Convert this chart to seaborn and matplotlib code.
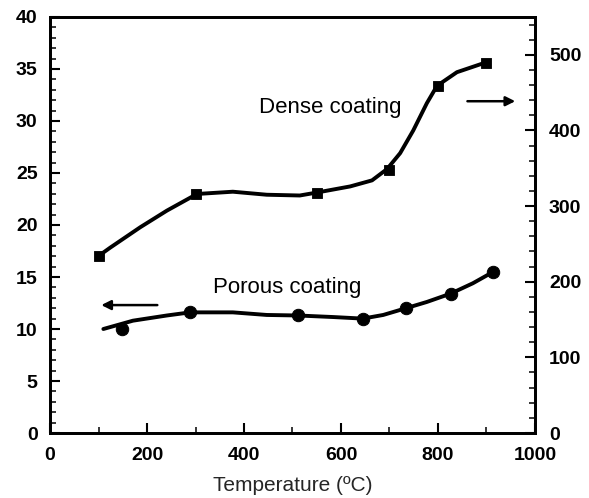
import matplotlib
matplotlib.use("Agg")
import matplotlib.pyplot as plt
import seaborn as sns
import pandas as pd
from matplotlib.ticker import MultipleLocator

sns.set_theme(style="white")
plt.rcParams['font.family'] = ['Liberation Sans', 'DejaVu Sans']

# Dense coating (right axis) - measured points
dense_T = [100, 300, 550, 700, 800, 900]
dense_val = [234, 316, 317, 348, 459, 489]
# Dense coating fitted curve
dense_curve_T = [100, 124, 186, 241, 303, 377, 447, 515, 551, 619, 664, 695, 722, 749, 777, 798, 839, 899]
dense_curve_val = [234, 245, 272, 294, 316, 319, 315, 314, 318, 326, 334, 349, 370, 400, 436, 459, 477, 490]

# Porous coating (left axis) - measured points
porous_T = [149, 289, 511, 645, 734, 826, 914]
porous_val = [10.0, 11.6, 11.3, 11.0, 12.0, 13.4, 15.5]
# Porous coating fitted curve
porous_curve_T = [110, 171, 241, 289, 377, 447, 511, 584, 645, 687, 734, 777, 826, 872, 914]
porous_curve_val = [10.0, 10.8, 11.3, 11.6, 11.6, 11.35, 11.3, 11.15, 11.0, 11.35, 12.0, 12.6, 13.4, 14.4, 15.5]

xlabel = "Temperature (ºC)"

fig = plt.figure(figsize=(5.89, 4.98), dpi=100)
ax = fig.add_axes([0.0849, 0.1305, 0.8234, 0.8354])
ax2 = ax.twinx()

dfp = pd.DataFrame({"T": porous_curve_T, "v": porous_curve_val})
dfpm = pd.DataFrame({"T": porous_T, "v": porous_val})
dfd = pd.DataFrame({"T": dense_curve_T, "v": dense_curve_val})
dfdm = pd.DataFrame({"T": dense_T, "v": dense_val})

sns.lineplot(data=dfp, x="T", y="v", ax=ax, color="black", linewidth=2.8, sort=False)
sns.scatterplot(data=dfpm, x="T", y="v", ax=ax, color="black", marker="o", s=80, edgecolor="black", zorder=5)
sns.lineplot(data=dfd, x="T", y="v", ax=ax2, color="black", linewidth=2.8, sort=False)
sns.scatterplot(data=dfdm, x="T", y="v", ax=ax2, color="black", marker="s", s=60, edgecolor="black", zorder=5)

ax.set_xlim(0, 1000)
ax.set_ylim(0, 40)
ax2.set_ylim(0, 550)

ax.xaxis.set_major_locator(MultipleLocator(200))
ax.xaxis.set_minor_locator(MultipleLocator(100))
ax.yaxis.set_major_locator(MultipleLocator(5))
ax.yaxis.set_minor_locator(MultipleLocator(1))
ax2.yaxis.set_major_locator(MultipleLocator(100))
ax2.yaxis.set_minor_locator(MultipleLocator(20))

for a in (ax, ax2):
    for s in a.spines.values():
        s.set_linewidth(2.0)
        s.set_color("black")
ax.tick_params(axis="both", which="major", direction="in", length=7, width=1.5,
               labelsize=14, pad=9, colors="black", bottom=True, left=True)
ax.tick_params(axis="both", which="minor", direction="in", length=4.5, width=1.3,
               bottom=True, left=True)
ax.tick_params(axis="x", which="major", pad=10)
ax2.tick_params(axis="y", which="major", direction="in", length=7, width=1.5,
                labelsize=14, pad=10, colors="black", right=True)
ax2.tick_params(axis="y", which="minor", direction="in", length=4.5, width=1.3, right=True)
for lab in ax.get_xticklabels() + ax.get_yticklabels() + ax2.get_yticklabels():
    lab.set_fontweight("bold")

ax.set_xlabel(xlabel, fontsize=15, labelpad=9)
ax.set_ylabel("")
ax2.set_ylabel("")

ax.text(577, 31.3, "Dense coating", fontsize=16, ha="center", va="center", color="black")
ax.text(489, 14.0, "Porous coating", fontsize=16, ha="center", va="center", color="black")
ax.annotate("", xy=(965, 31.9), xytext=(855, 31.9),
            arrowprops=dict(arrowstyle="-|>", color="black", lw=1.8, mutation_scale=14))
ax.annotate("", xy=(100, 12.3), xytext=(227, 12.3),
            arrowprops=dict(arrowstyle="-|>", color="black", lw=1.8, mutation_scale=14))

fig.savefig("out.png", dpi=100)
